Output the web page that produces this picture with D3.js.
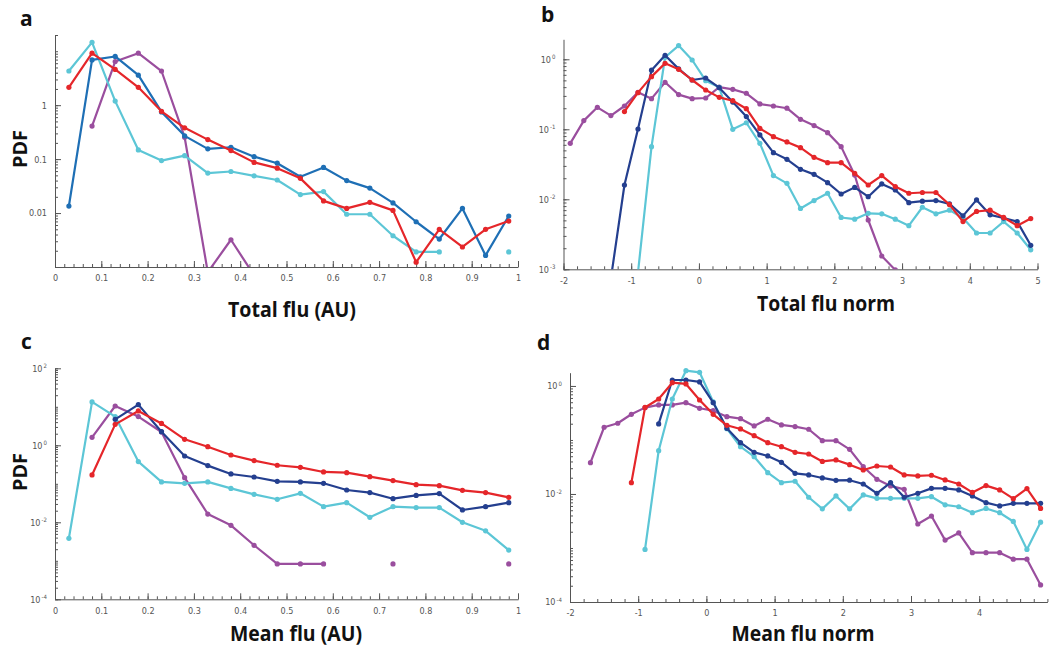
<!DOCTYPE html>
<html>
<head>
<meta charset="utf-8">
<script src="https://cdn.jsdelivr.net/npm/d3@7/dist/d3.min.js"></script>
<style>
  body { margin: 0; background: #fff; }
  .tick text { font-family: 'Liberation Sans Narrow', 'DejaVu Sans Condensed', sans-serif; font-size: 9px; fill: #555; }
  .domain, .tick line { stroke: #555; }
  .title { font-family: 'Open Sans', sans-serif; font-weight: 700; fill: #111; }
</style>
</head>
<body>
<svg id="chart" width="1049" height="652"></svg>
<script>
// bin centres
const xAU = [0.03, 0.08, 0.13, 0.18, 0.23, 0.28, 0.33, 0.38, 0.43, 0.48,
  0.53, 0.58, 0.63, 0.68, 0.73, 0.78, 0.83, 0.88, 0.93, 0.98];
const xNorm = [-1.9, -1.7, -1.5, -1.3, -1.1, -0.9, -0.7, -0.5, -0.3, -0.1,
  0.1, 0.3, 0.5, 0.7, 0.9, 1.1, 1.3, 1.5, 1.7, 1.9,
  2.1, 2.3, 2.5, 2.7, 2.9, 3.1, 3.3, 3.5, 3.7, 3.9,
  4.1, 4.3, 4.5, 4.7, 4.9];

// tick labels
const auTicks = [0, 0.1, 0.2, 0.3, 0.4, 0.5, 0.6, 0.7, 0.8, 0.9, 1];
const auTickLabels = ['0', '0.1', '0.2', '0.3', '0.4', '0.5', '0.6', '0.7', '0.8', '0.9', '1'];
const normTicks = [-2, -1, 0, 1, 2, 3, 4, 5];
const normTickLabels = ['-2', '-1', '0', '1', '2', '3', '4', '5'];
const aYTicks = [1, 0.1, 0.01];
const aYLabels = ['1', '0.1', '0.01'];
const bYExp = [0, -1, -2, -3];
const cYExp = [2, 0, -2, -4];
const dYExp = [0, -2, -4];

// a: total flu (AU)
const aBlue = [0.0135, 6.9, 8, 3.6, 0.75, 0.27, 0.155, 0.166, 0.111, 0.084,
  0.047, 0.070, 0.040, 0.029, 0.0154, 0.0069, 0.0033, 0.0122, 0.00164, 0.0088];
const aRed = [2.14, 9.2, 4.6, 2.14, 0.77, 0.38, 0.23, 0.144, 0.087, 0.068,
  0.044, 0.0168, 0.0122, 0.0158, 0.0112, 0.00123, 0.0050, 0.00235, 0.0050, 0.0071];
const aCyan = [4.3, 14.6, 1.19, 0.148, 0.094, 0.116, 0.055, 0.059, 0.049, 0.041,
  0.022, 0.025, 0.0095, 0.0095, 0.0038, 0.0019, 0.0019, null, null, 0.0019];
const aPurple = [null, 0.41, 6.45, 9.2, 4.3, 0.255, 0.0008, 0.0032, 0.0007, null,
  null, null, null, null, null, null, null, null, null, null];

// b: total flu norm
const bPurple = [0.063, 0.133, 0.206, 0.157, 0.215, 0.337, 0.274, 0.469, 0.313, 0.274,
  0.28, 0.40, 0.372, 0.327, 0.23, 0.215, 0.20, 0.139, 0.113, 0.0896,
  0.0565, 0.0222, 0.00506, 0.00155, 0.00098, null, null, null, null, null,
  null, null, null, null, null];
const bCyan = [null, null, null, null, null, 0.0009, 0.0565, 1.07, 1.57, 0.977,
  0.495, 0.398, 0.1, 0.124, 0.063, 0.0218, 0.0169, 0.0074, 0.0096, 0.0122,
  0.0055, 0.0052, 0.0063, 0.0062, 0.0052, 0.0042, 0.0077, 0.0062, 0.007, 0.0054,
  0.0033, 0.0033, 0.0048, 0.0033, 0.0019];
const bNavy = [null, null, null, 0.00074, 0.016, 0.101, 0.70, 1.14, 0.73, 0.506,
  0.54, 0.393, 0.245, 0.152, 0.083, 0.0464, 0.0372, 0.0268, 0.0227, 0.0173,
  0.0119, 0.0148, 0.0109, 0.0166, 0.0136, 0.00896, 0.0094, 0.0096, 0.0086, 0.0058,
  0.0098, 0.006, 0.0054, 0.0048, 0.0022];
const bRed = [null, null, null, null, 0.179, 0.334, 0.565, 0.875, 0.72, 0.506,
  0.364, 0.286, 0.256, 0.197, 0.103, 0.0785, 0.0659, 0.0547, 0.0398, 0.0334,
  0.0334, 0.0235, 0.016, 0.0218, 0.0152, 0.0122, 0.0125, 0.0125, 0.0084, 0.0048,
  0.0067, 0.007, 0.0055, 0.0042, 0.0053];

// c: mean flu (AU)
const cPurple = [null, 1.61, 10.5, 5.56, 2.22, 0.144, 0.0164, 0.00836, 0.00253, 0.00083,
  0.00083, 0.00083, null, null, 0.00083, null, null, null, null, 0.00083];
const cCyan = [0.00384, 13.4, 5.56, 0.377, 0.112, 0.103, 0.112, 0.076, 0.0533, 0.0396,
  0.0566, 0.0255, 0.0324, 0.0135, 0.0255, 0.024, 0.024, 0.01, 0.006, 0.0019];
const cNavy = [null, null, 4.73, 11.4, 2.26, 0.528, 0.297, 0.18, 0.15, 0.116,
  0.112, 0.103, 0.069, 0.059, 0.041, 0.050, 0.0556, 0.0209, 0.0255, 0.0324];
const cRed = [null, 0.17, 3.5, 7.8, 3.7, 1.43, 0.92, 0.56, 0.40, 0.303,
  0.268, 0.203, 0.195, 0.153, 0.121, 0.095, 0.0896, 0.0677, 0.059, 0.0446];

// d: mean flu norm
const dPurple = [null, 0.038, 0.172, 0.204, 0.299, 0.397, 0.445, 0.445, 0.491, 0.386,
  0.349, 0.27, 0.248, 0.182, 0.242, 0.19, 0.177, 0.158, 0.097, 0.097,
  0.067, 0.032, 0.0187, 0.0141, 0.0122, 0.00278, 0.0039, 0.0014, 0.0019, 0.00082,
  0.00082, 0.00082, 0.00062, 0.00062, 0.000207];
const dCyan = [null, null, null, null, null, 0.00094, 0.0634, 0.574, 1.92, 1.79,
  0.506, 0.162, 0.075, 0.049, 0.0248, 0.0162, 0.0172, 0.0087, 0.0053, 0.0092,
  0.0053, 0.0096, 0.0083, 0.0083, 0.0083, 0.0083, 0.0089, 0.0063, 0.0058, 0.0045,
  0.0054, 0.0045, 0.0031, 0.00094, 0.003];
const dNavy = [null, null, null, null, null, null, 0.198, 1.29, 1.29, 1.19,
  0.491, 0.164, 0.089, 0.059, 0.0506, 0.0386, 0.0241, 0.0225, 0.0198, 0.0179,
  0.018, 0.0153, 0.0103, 0.0162, 0.0087, 0.0103, 0.0127, 0.0127, 0.0119, 0.0092,
  0.0069, 0.006, 0.0067, 0.0067, 0.0067];
const dRed = [null, null, null, null, 0.0162, 0.40, 0.574, 1.15, 1.09, 0.55,
  0.299, 0.187, 0.16, 0.12, 0.089, 0.075, 0.059, 0.055, 0.040, 0.0427,
  0.0349, 0.0278, 0.033, 0.0316, 0.0225, 0.0216, 0.0222, 0.0182, 0.0153, 0.0107,
  0.0143, 0.0119, 0.0082, 0.0126, 0.0054];

const colors = {
  blue: '#1e6fb5',
  navy: '#243f8f',
  red: '#e5262a',
  cyan: '#5cc6d6',
  purple: '#9a4e9e'
};

const panels = [
  {
    letter: 'a', letterPos: [20, 26],
    xs: xAU, series: [[aPurple, 'purple'], [aCyan, 'cyan'], [aBlue, 'blue'], [aRed, 'red']],
    xDomain: [0, 1], xRange: [55, 518], yDomain: [1e-3, 20], yRange: [267, 35],
    xTicks: auTicks, xLabels: auTickLabels, xMinorStep: 0.02,
    yTicks: aYTicks, yLabels: aYLabels,
    title: 'Total flu (AU)', titlePos: [292, 317], titleLen: 128,
    ylabel: [20, 149]
  },
  {
    letter: 'b', letterPos: [541, 22],
    xs: xNorm, series: [[bPurple, 'purple'], [bCyan, 'cyan'], [bNavy, 'navy'], [bRed, 'red']],
    xDomain: [-2, 5], xRange: [563.5, 1037.5], yDomain: [1e-3, 1.93], yRange: [269.3, 39.3],
    xTicks: normTicks, xLabels: normTickLabels, xMinorStep: 0.2,
    yTicks: bYExp.map(e => Math.pow(10, e)), yExp: bYExp,
    title: 'Total flu norm', titlePos: [826, 311], titleLen: 138
  },
  {
    letter: 'c', letterPos: [21, 349],
    xs: xAU, series: [[cPurple, 'purple'], [cCyan, 'cyan'], [cNavy, 'navy'], [cRed, 'red']],
    xDomain: [0, 1], xRange: [55, 518], yDomain: [1e-4, 100], yRange: [599.3, 368.3],
    xTicks: auTicks, xLabels: auTickLabels, xMinorStep: 0.02,
    yTicks: cYExp.map(e => Math.pow(10, e)), yExp: cYExp,
    title: 'Mean flu (AU)', titlePos: [296, 641], titleLen: 132,
    ylabel: [20, 472]
  },
  {
    letter: 'd', letterPos: [537, 350],
    xs: xNorm, series: [[dPurple, 'purple'], [dCyan, 'cyan'], [dNavy, 'navy'], [dRed, 'red']],
    xDomain: [-2, 5], xRange: [570, 1047.4], yDomain: [1e-4, 1.76], yRange: [602, 372.7],
    xTicks: normTicks.slice(0, 7), xLabels: normTickLabels, xMinorStep: 0.2,
    yTicks: dYExp.map(e => Math.pow(10, e)), yExp: dYExp,
    title: 'Mean flu norm', titlePos: [803, 641], titleLen: 143
  }
];

const svg = d3.select('#chart');

function logMinorTicks(domain) {
  const out = [];
  const lo = Math.floor(Math.log10(domain[0]));
  const hi = Math.ceil(Math.log10(domain[1]));
  for (let e = lo; e <= hi; e++) {
    for (let k = 1; k <= 9; k++) {
      const v = k * Math.pow(10, e);
      if (v >= domain[0] * 0.999 && v <= domain[1]) out.push(v);
    }
  }
  return out;
}

function drawPanel(p) {
  const x = d3.scaleLinear().domain(p.xDomain).range(p.xRange);
  const y = d3.scaleLog().domain(p.yDomain).range(p.yRange);
  const g = svg.append('g');

  // minor ticks first, then labelled ones
  const xMinor = d3.range(p.xDomain[0], p.xDomain[1] + 1e-9, p.xMinorStep);
  g.append('g')
    .attr('transform', `translate(0,${p.yRange[0]})`)
    .call(d3.axisBottom(x).tickValues(xMinor).tickSizeInner(-3).tickSizeOuter(0).tickFormat(''))
    .call(s => s.select('.domain').remove());

  g.append('g')
    .attr('transform', `translate(0,${p.yRange[0]})`)
    .call(d3.axisBottom(x).tickValues(p.xTicks).tickSizeInner(-6).tickSizeOuter(0).tickPadding(8)
      .tickFormat((d, i) => p.xLabels[i]));

  g.append('g')
    .attr('transform', `translate(${p.xRange[0]},0)`)
    .call(d3.axisLeft(y).tickValues(logMinorTicks(p.yDomain)).tickSizeInner(-3).tickSizeOuter(0).tickFormat(''))
    .call(s => s.select('.domain').remove());

  const yAxis = g.append('g')
    .attr('transform', `translate(${p.xRange[0]},0)`)
    .call(d3.axisLeft(y).tickValues(p.yTicks).tickSizeInner(-6).tickSizeOuter(0).tickPadding(8)
      .tickFormat((d, i) => p.yLabels ? p.yLabels[i] : '10'));

  if (p.yExp) {
    yAxis.selectAll('.tick text').append('tspan')
      .attr('dy', '-0.55em')
      .attr('font-size', '6px')
      .text((d, i) => '\u2009' + p.yExp[i]);
  }

  const clipId = 'clip-' + p.letter;
  svg.append('clipPath').attr('id', clipId).append('rect')
    .attr('x', p.xRange[0] - 5)
    .attr('y', p.yRange[1] - 40)
    .attr('width', p.xRange[1] - p.xRange[0] + 15)
    .attr('height', p.yRange[0] - p.yRange[1] + 40);

  const plot = g.append('g').attr('clip-path', `url(#${clipId})`);

  const line = d3.line()
    .defined(d => d[1] != null)
    .x(d => x(d[0]))
    .y(d => y(d[1]));

  p.series.forEach(([vals, c]) => {
    const pts = p.xs.map((xv, i) => [xv, vals[i]]);
    plot.append('path')
      .datum(pts)
      .attr('fill', 'none')
      .attr('stroke', colors[c])
      .attr('stroke-width', 2.2)
      .attr('stroke-linejoin', 'round')
      .attr('d', line);
    plot.selectAll(null)
      .data(pts.filter(d => d[1] != null))
      .enter().append('circle')
      .attr('cx', d => x(d[0]))
      .attr('cy', d => y(d[1]))
      .attr('r', 2.6)
      .attr('fill', colors[c]);
  });

  svg.append('text')
    .attr('class', 'title')
    .attr('x', p.letterPos[0])
    .attr('y', p.letterPos[1])
    .attr('font-size', 21)
    .text(p.letter);

  svg.append('text')
    .attr('class', 'title')
    .attr('x', p.titlePos[0])
    .attr('y', p.titlePos[1])
    .attr('text-anchor', 'middle')
    .attr('font-size', 21)
    .attr('textLength', p.titleLen)
    .attr('lengthAdjust', 'spacingAndGlyphs')
    .text(p.title);

  if (p.ylabel) {
    svg.append('text')
      .attr('class', 'title')
      .attr('transform', `translate(${p.ylabel[0] + 7},${p.ylabel[1]}) rotate(-90)`)
      .attr('text-anchor', 'middle')
      .attr('font-size', 20)
      .attr('textLength', 38)
      .attr('lengthAdjust', 'spacingAndGlyphs')
      .text('PDF');
  }
}

panels.forEach(drawPanel);
</script>
</body>
</html>
